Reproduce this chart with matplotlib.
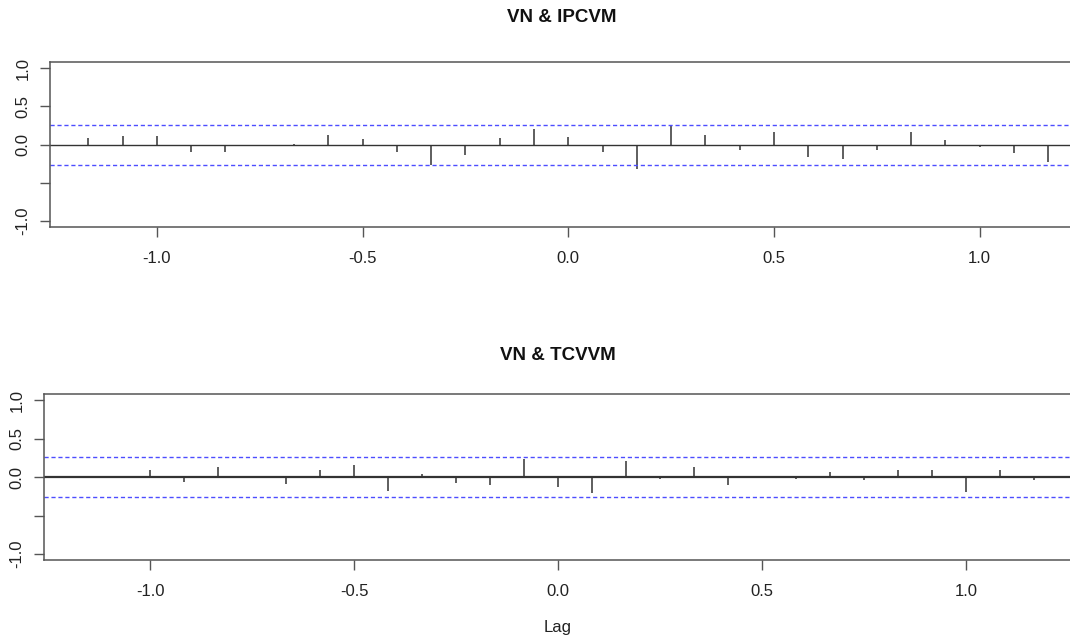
import numpy as np
import matplotlib.pyplot as plt

plt.rcParams['font.family'] = ['Liberation Sans', 'DejaVu Sans']

# lags in years (monthly data, lag -14..14)
lag_months = list(range(-14, 15))
lags = np.array(lag_months) / 12.0

ccf_ipcvm = [0.09, 0.11, 0.11, -0.10, -0.10, 0.00, 0.01, 0.12, 0.08, -0.10,
             -0.26, -0.13, 0.09, 0.20, 0.10, -0.10, -0.32, 0.26, 0.13, -0.07,
             0.17, -0.16, -0.19, -0.07, 0.16, 0.06, -0.03, -0.11, -0.22]
ccf_tcvvm = [-0.01, 0.00, 0.09, -0.06, 0.13, 0.02, -0.09, 0.10, 0.16, -0.18,
             0.04, -0.07, -0.10, 0.24, -0.12, -0.20, 0.21, -0.02, 0.13, -0.10,
             0.01, -0.02, 0.07, -0.04, 0.09, 0.09, -0.19, 0.10, -0.04]
conf_bound = 0.26

panels = [("VN & IPCVM", ccf_ipcvm, [0.0467, 0.6437, 0.9688, 0.2591], 1.0, (0.525, 0.973)),
          ("VN & TCVVM", ccf_tcvvm, [0.0411, 0.1218, 0.9609, 0.2602], 1.6, (0.5215, 0.4426))]

fig = plt.figure(figsize=(10.7, 6.38), dpi=100)

for title, vals, pos, zlw, tpos in panels:
    ax = fig.add_axes(pos)
    ax.vlines(lags, 0, vals, color='#333333', lw=1.1)
    ax.axhline(0, color='#333333', lw=zlw)
    for b in (conf_bound, -conf_bound):
        ax.axhline(b, color='#4d4dff', lw=1.0, linestyle=(0, (3, 2)))
    ax.set_xlim(-1.26, 1.26)
    ax.set_ylim(-1.08, 1.08)
    ax.set_xticks([-1.0, -0.5, 0.0, 0.5, 1.0])
    ax.set_xticklabels(['-1.0', '-0.5', '0.0', '0.5', '1.0'])
    ax.set_yticks([-1.0, -0.5, 0.0, 0.5, 1.0])
    ax.set_yticklabels(['-1.0', '', '0.0', '0.5', '1.0'], rotation=90, va='center')
    ax.tick_params(direction='out', length=7, width=1, color='#555555',
                   labelsize=12, labelcolor='#222222')
    ax.tick_params(axis='x', pad=10)
    ax.tick_params(axis='y', pad=7)
    for s in ax.spines.values():
        s.set_color('#555555')
        s.set_linewidth(1.1)
    fig.text(tpos[0], tpos[1], title, ha='center', va='center',
             fontsize=13.5, fontweight='bold', color='#111111')

fig.text(0.5215, 0.0157, 'Lag', ha='center', va='center', fontsize=12, color='#222222')

fig.savefig('out.png', dpi=100)
